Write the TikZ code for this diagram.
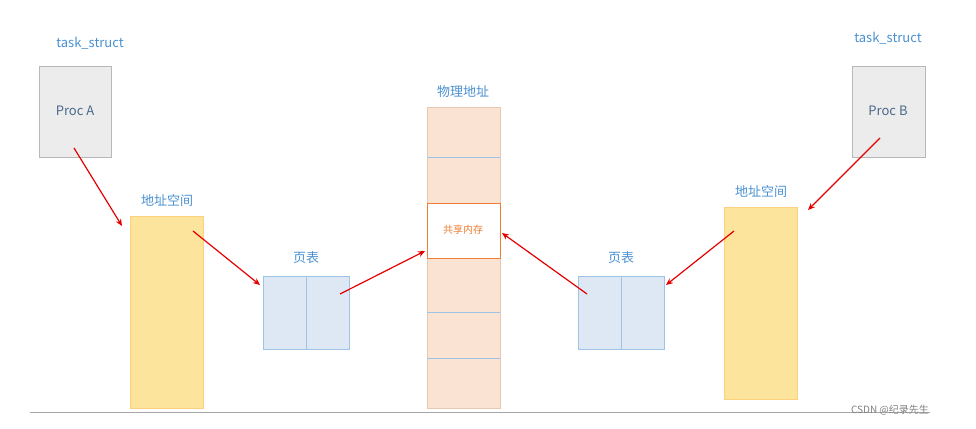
\documentclass[tikz,border=0pt]{standalone}
\usepackage{fontspec}
\setmainfont{Noto Sans CJK SC}
\usetikzlibrary{arrows.meta}
\definecolor{lblue}{HTML}{4A90D0}
\definecolor{pgray}{HTML}{ECECEC}
\definecolor{bgray}{HTML}{B8B8B8}
\definecolor{ptxt}{HTML}{4A6A8A}
\definecolor{yel}{HTML}{FDE49C}
\definecolor{pt}{HTML}{DDE8F4}
\definecolor{ptb}{HTML}{9DC3E6}
\definecolor{ph}{HTML}{FBE3D4}
\definecolor{phb}{HTML}{E8C8B0}
\definecolor{org}{HTML}{ED7D31}
\begin{document}
\begin{tikzpicture}[x=1pt,y=-1pt,
  lab/.style={text=lblue,font=\fontsize{13}{15}\selectfont},
  proc/.style={draw=bgray,fill=pgray},
  asp/.style={draw=yel!80!orange,fill=yel},
  ptab/.style={draw=ptb,fill=pt},
  arr/.style={-{Stealth[length=7pt,width=6pt]},red!90!black,line width=1.2pt}]
\useasboundingbox (0,0) rectangle (976,428);
\node[lab] (t1) at (90,43) {task\_struct};
\node[lab] (t2) at (888,38) {task\_struct};
\draw[proc] (39,66) rectangle (111,157);
\node[text=ptxt,font=\fontsize{13}{15}\selectfont] (pa) at (75,111) {Proc A};
\draw[proc] (852,66) rectangle (925,157);
\node[text=ptxt,font=\fontsize{13}{15}\selectfont] (pb) at (888,111) {Proc B};
\node[lab] (l1) at (167,201) {地址空间};
\draw[asp] (130,216) rectangle (203,408);
\node[lab] (l2) at (761,192) {地址空间};
\draw[asp] (724,207) rectangle (797,399);
\node[lab] (p1) at (306,258) {页表};
\draw[ptab] (263,276) rectangle (349,349); \draw[ptb] (306,276)--(306,349);
\node[lab] (p2) at (621,258) {页表};
\draw[ptab] (578,276) rectangle (664,349); \draw[ptb] (621,276)--(621,349);
\node[lab] (ph) at (463,92) {物理地址};
\draw[draw=phb,fill=ph] (427,107) rectangle (500,408);
\foreach \y in {157,312,358} \draw[ptb] (427,\y)--(500,\y);
\draw[draw=org,fill=white] (427,203) rectangle (500,258);
\node[text=org,font=\fontsize{10}{12}\selectfont] (sh) at (463,230) {共享内存};
\draw[gray!70] (30,412)--(930,412);
\node[text=gray,font=\fontsize{10}{12}\selectfont] (c) at (890,410) {CSDN @纪录先生};
\coordinate (a1) at (74,148); \coordinate (a2) at (122,226);
\coordinate (b1) at (193,231); \coordinate (b2) at (260,285);
\coordinate (c1) at (340,294); \coordinate (c2) at (425,251);
\coordinate (d1) at (587,294); \coordinate (d2) at (502,233);
\coordinate (e1) at (734,231); \coordinate (e2) at (666,285);
\coordinate (f1) at (880,138); \coordinate (f2) at (808,210);
\draw[arr] (a1)--(a2); \draw[arr] (b1)--(b2); \draw[arr] (c1)--(c2);
\draw[arr] (d1)--(d2); \draw[arr] (e1)--(e2); \draw[arr] (f1)--(f2);
\end{tikzpicture}
\end{document}
